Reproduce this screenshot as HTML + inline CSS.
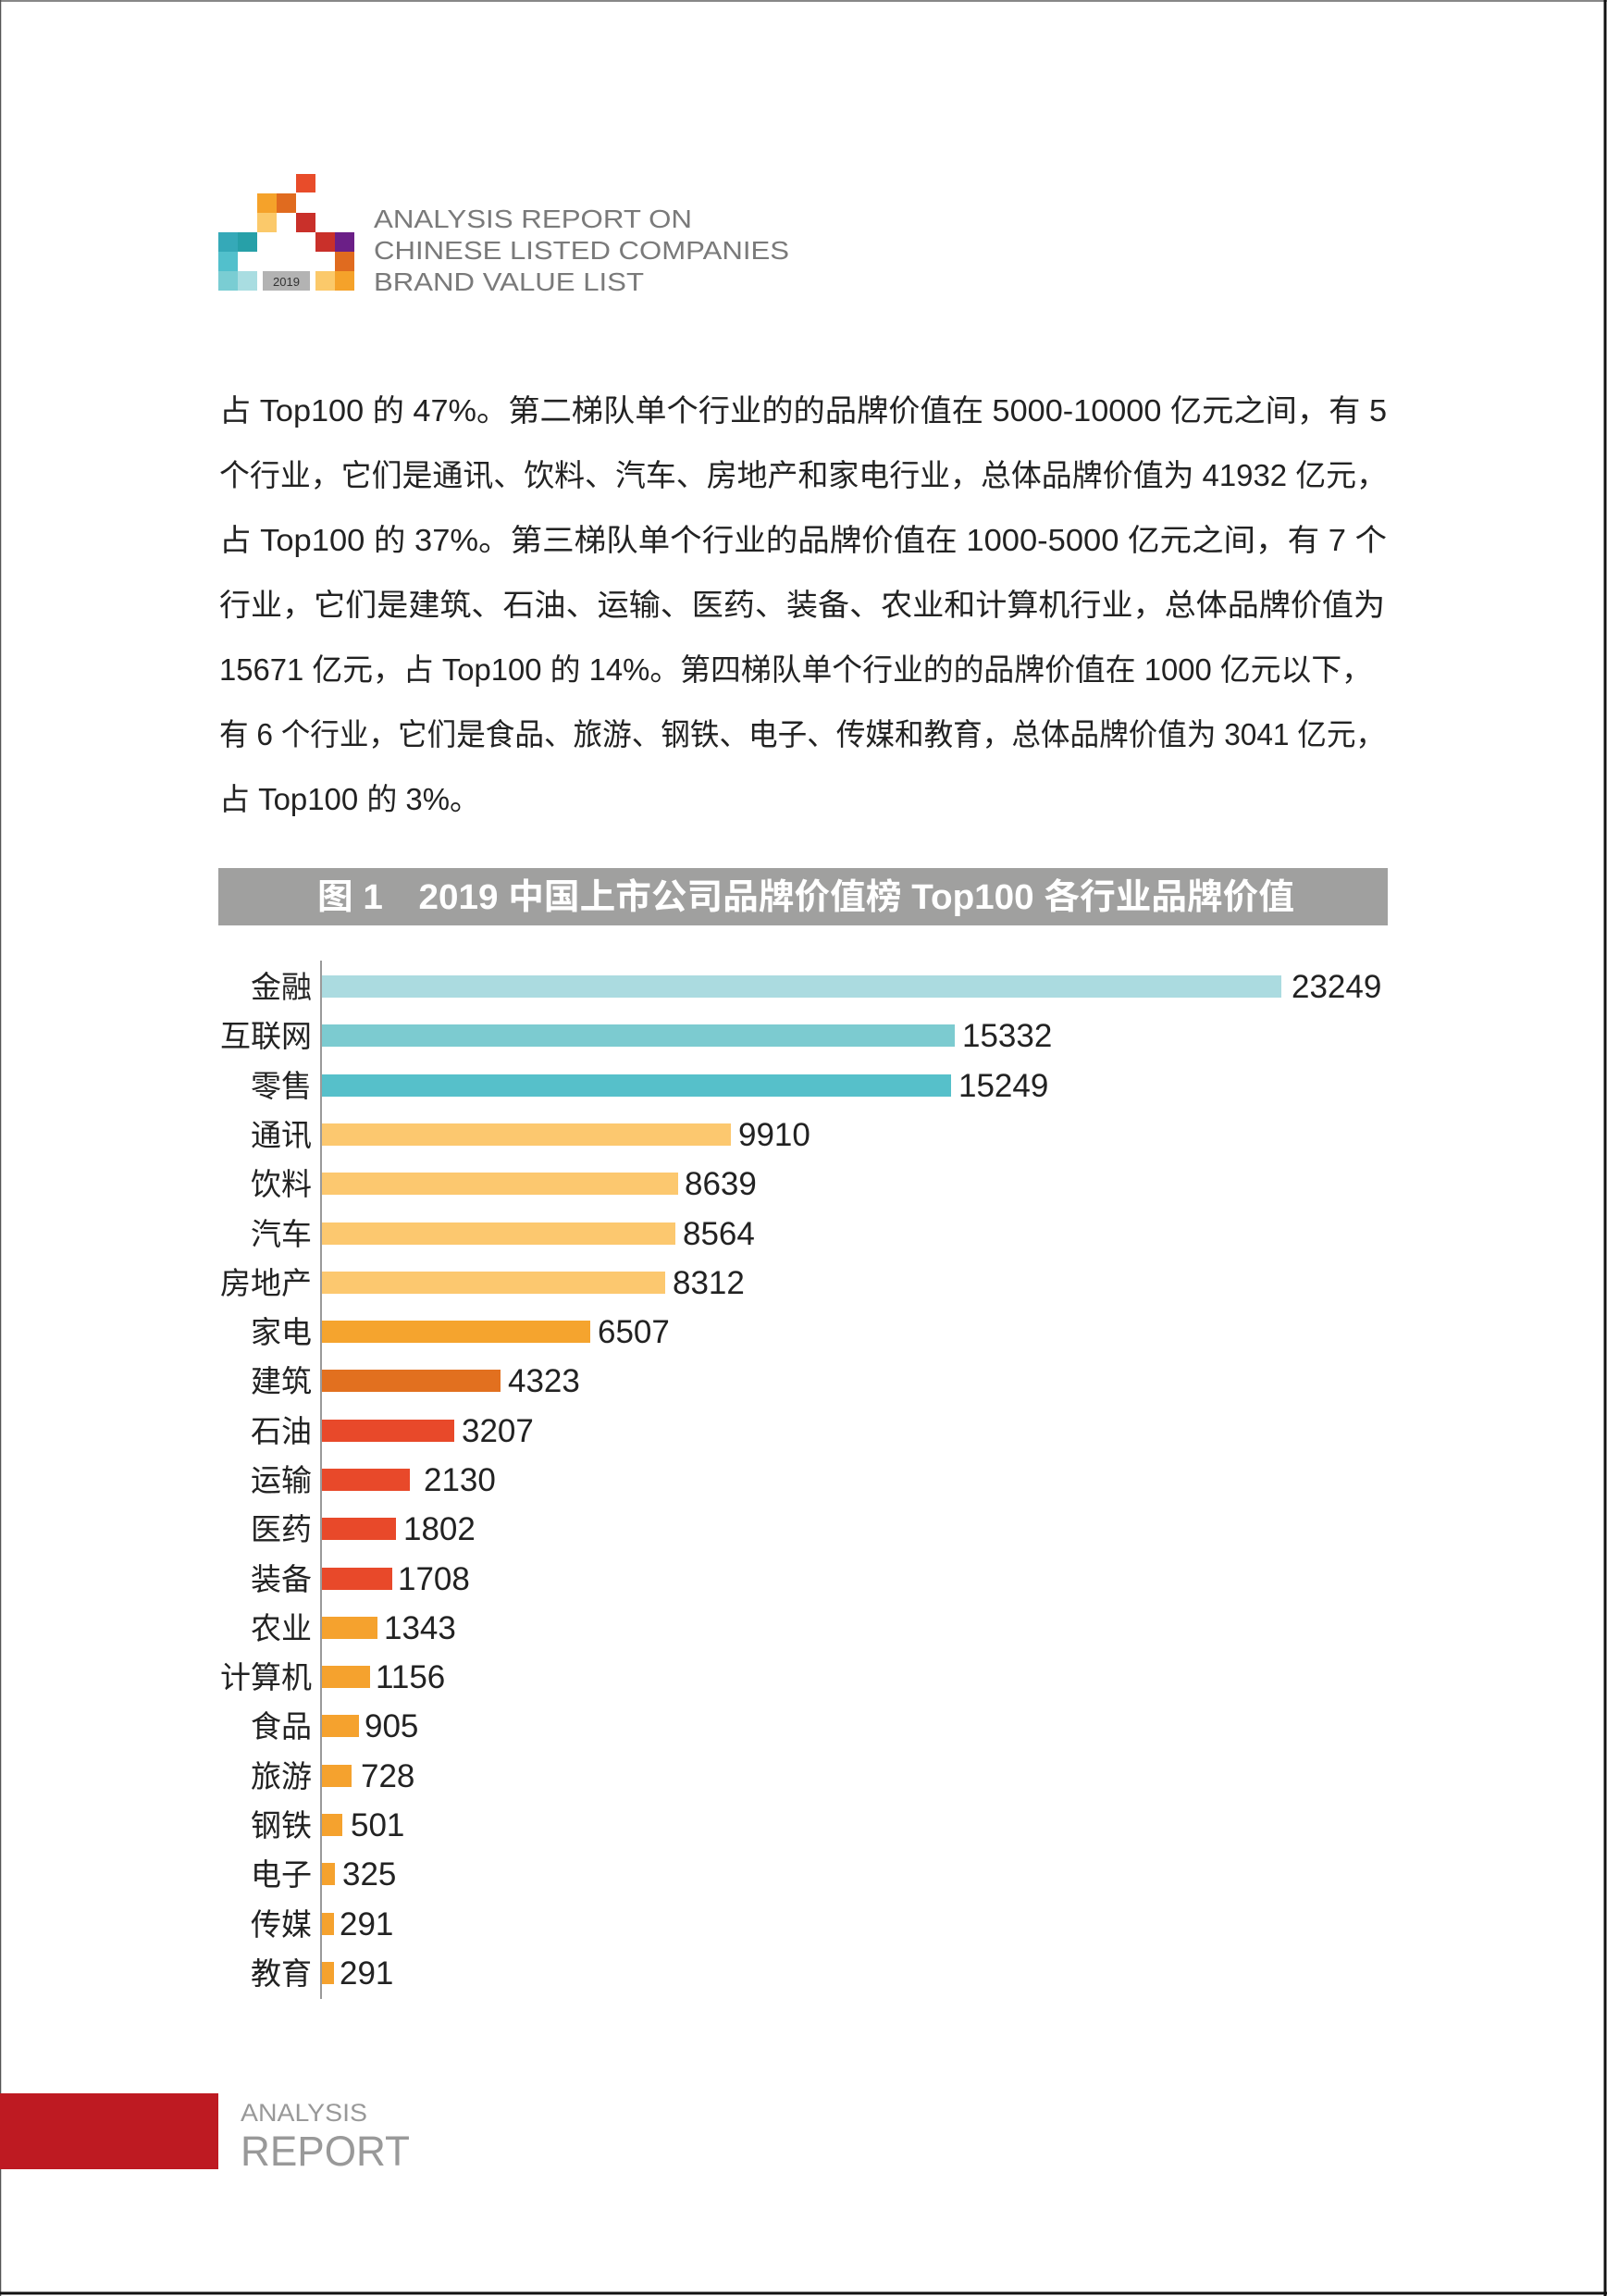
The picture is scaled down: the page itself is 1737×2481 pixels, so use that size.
<!DOCTYPE html>
<html><head><meta charset="utf-8"><style>
html,body{margin:0;padding:0;background:#fff}
svg{display:block}
</style></head><body>
<svg width="1737" height="2481" viewBox="0 0 1737 2481" xmlns="http://www.w3.org/2000/svg">
<rect x="0" y="0" width="1737" height="2481" fill="#fff"/>
<line x1="0" y1="1" x2="1737" y2="1" stroke="#888" stroke-width="2"/>
<line x1="0.5" y1="0" x2="0.5" y2="2481" stroke="#555" stroke-width="1.5"/>
<line x1="1735" y1="0" x2="1735" y2="2481" stroke="#111" stroke-width="3"/>
<line x1="0" y1="2478" x2="1737" y2="2478" stroke="#111" stroke-width="3"/>

<!-- logo -->
<g>
<rect x="320" y="188" width="21" height="20" fill="#e84c2a"/>
<rect x="278" y="209" width="21" height="21" fill="#f5a22a"/>
<rect x="299" y="209" width="21" height="21" fill="#e06b1f"/>
<rect x="278" y="230" width="21" height="21" fill="#fbc96a"/>
<rect x="320" y="230" width="21" height="21" fill="#c9302a"/>
<rect x="236" y="251" width="21" height="21" fill="#35a9b8"/>
<rect x="257" y="251" width="21" height="21" fill="#27a0a8"/>
<rect x="341" y="251" width="21" height="21" fill="#c9302a"/>
<rect x="362" y="251" width="21" height="21" fill="#6b1f87"/>
<rect x="236" y="272" width="21" height="21" fill="#52c0cc"/>
<rect x="362" y="272" width="21" height="21" fill="#e06b1f"/>
<rect x="236" y="293" width="21" height="21" fill="#7acdd3"/>
<rect x="257" y="293" width="21" height="21" fill="#a9dde1"/>
<rect x="284" y="293" width="51" height="21" fill="#b3b3b3"/>
<text x="309.5" y="309" font-family="Liberation Sans, sans-serif" font-size="13" fill="#333" text-anchor="middle">2019</text>
<rect x="341" y="293" width="21" height="21" fill="#fbc96a"/>
<rect x="362" y="293" width="21" height="21" fill="#f5a22a"/>
</g>
<g font-family="Liberation Sans, sans-serif" font-size="28" fill="#7a7a7a">
<text x="404" y="246" textLength="344" lengthAdjust="spacingAndGlyphs">ANALYSIS REPORT ON</text>
<text x="404" y="280" textLength="449" lengthAdjust="spacingAndGlyphs">CHINESE LISTED COMPANIES</text>
<text x="404" y="314" textLength="292" lengthAdjust="spacingAndGlyphs">BRAND VALUE LIST</text>
</g>

<!-- paragraph -->
<g font-family="Liberation Sans, 'Noto Sans CJK SC', sans-serif" font-size="33" fill="#222">
<text x="237" y="455" textLength="1262" lengthAdjust="spacingAndGlyphs">占 Top100 的 47%。第二梯队单个行业的的品牌价值在 5000-10000 亿元之间，有 5</text>
<text x="237" y="525" textLength="1262" lengthAdjust="spacingAndGlyphs">个行业，它们是通讯、饮料、汽车、房地产和家电行业，总体品牌价值为 41932 亿元，</text>
<text x="237" y="595" textLength="1262" lengthAdjust="spacingAndGlyphs">占 Top100 的 37%。第三梯队单个行业的品牌价值在 1000-5000 亿元之间，有 7 个</text>
<text x="237" y="665" textLength="1260" lengthAdjust="spacingAndGlyphs">行业，它们是建筑、石油、运输、医药、装备、农业和计算机行业，总体品牌价值为</text>
<text x="237" y="735" textLength="1246" lengthAdjust="spacingAndGlyphs">15671 亿元，占 Top100 的 14%。第四梯队单个行业的的品牌价值在 1000 亿元以下，</text>
<text x="237" y="805" textLength="1260" lengthAdjust="spacingAndGlyphs">有 6 个行业，它们是食品、旅游、钢铁、电子、传媒和教育，总体品牌价值为 3041 亿元，</text>
<text x="237" y="875" textLength="282" lengthAdjust="spacingAndGlyphs">占 Top100 的 3%。</text>
</g>

<!-- title bar -->
<rect x="236" y="938" width="1264" height="62" fill="#a0a09f"/>
<text x="871" y="982" font-family="Liberation Sans, 'Noto Sans CJK SC', sans-serif" font-size="38" font-weight="bold" fill="#fff" text-anchor="middle" textLength="1056" lengthAdjust="spacingAndGlyphs">图 1　2019 中国上市公司品牌价值榜 Top100 各行业品牌价值</text>

<!-- axis -->
<line x1="347" y1="1038" x2="347" y2="2160" stroke="#9a9a9a" stroke-width="2"/>

<g font-family="Liberation Sans, 'Noto Sans CJK SC', sans-serif">
<!-- rows: center = 1066 + 53.3*i -->
<g font-size="33" fill="#222" text-anchor="end">
<text x="337" y="1078">金融</text>
<text x="337" y="1131">互联网</text>
<text x="337" y="1185">零售</text>
<text x="337" y="1238">通讯</text>
<text x="337" y="1291">饮料</text>
<text x="337" y="1345">汽车</text>
<text x="337" y="1398">房地产</text>
<text x="337" y="1451">家电</text>
<text x="337" y="1504">建筑</text>
<text x="337" y="1558">石油</text>
<text x="337" y="1611">运输</text>
<text x="337" y="1664">医药</text>
<text x="337" y="1718">装备</text>
<text x="337" y="1771">农业</text>
<text x="337" y="1824">计算机</text>
<text x="337" y="1877">食品</text>
<text x="337" y="1931">旅游</text>
<text x="337" y="1984">钢铁</text>
<text x="337" y="2037">电子</text>
<text x="337" y="2091">传媒</text>
<text x="337" y="2144">教育</text>
</g>
<g>
<rect x="348" y="1054" width="1037" height="24" fill="#abdbe0"/>
<rect x="348" y="1107" width="684" height="24" fill="#7ccbd0"/>
<rect x="348" y="1161" width="680" height="24" fill="#56c0ca"/>
<rect x="348" y="1214" width="442" height="24" fill="#fcc86f"/>
<rect x="348" y="1267" width="385" height="24" fill="#fcc86f"/>
<rect x="348" y="1321" width="382" height="24" fill="#fcc86f"/>
<rect x="348" y="1374" width="371" height="24" fill="#fcc86f"/>
<rect x="348" y="1427" width="290" height="24" fill="#f5a42e"/>
<rect x="348" y="1480" width="193" height="24" fill="#e2701f"/>
<rect x="348" y="1534" width="143" height="24" fill="#e8492a"/>
<rect x="348" y="1587" width="95" height="24" fill="#e8492a"/>
<rect x="348" y="1640" width="80" height="24" fill="#e8492a"/>
<rect x="348" y="1694" width="76" height="24" fill="#e8492a"/>
<rect x="348" y="1747" width="60" height="24" fill="#f5a22e"/>
<rect x="348" y="1800" width="52" height="24" fill="#f5a22e"/>
<rect x="348" y="1853" width="40" height="24" fill="#f5a22e"/>
<rect x="348" y="1907" width="32" height="24" fill="#f5a22e"/>
<rect x="348" y="1960" width="22" height="24" fill="#f5a22e"/>
<rect x="348" y="2013" width="14" height="24" fill="#f5a22e"/>
<rect x="348" y="2067" width="13" height="24" fill="#f5a22e"/>
<rect x="348" y="2120" width="13" height="24" fill="#f5a22e"/>
</g>
<g font-size="35" fill="#222">
<text x="1396" y="1078">23249</text>
<text x="1040" y="1131">15332</text>
<text x="1036" y="1185">15249</text>
<text x="798" y="1238">9910</text>
<text x="740" y="1291">8639</text>
<text x="738" y="1345">8564</text>
<text x="727" y="1398">8312</text>
<text x="646" y="1451">6507</text>
<text x="549" y="1504">4323</text>
<text x="499" y="1558">3207</text>
<text x="458" y="1611">2130</text>
<text x="436" y="1664">1802</text>
<text x="430" y="1718">1708</text>
<text x="415" y="1771">1343</text>
<text x="406" y="1824">1156</text>
<text x="394" y="1877">905</text>
<text x="390" y="1931">728</text>
<text x="379" y="1984">501</text>
<text x="370" y="2037">325</text>
<text x="367" y="2091">291</text>
<text x="367" y="2144">291</text>
</g>
</g>

<!-- footer -->
<rect x="0" y="2262" width="236" height="82" fill="#be1a22"/>
<text x="260" y="2292" font-family="Liberation Sans, sans-serif" font-size="27" fill="#999" textLength="137" lengthAdjust="spacingAndGlyphs">ANALYSIS</text>
<text x="260" y="2340" font-family="Liberation Sans, sans-serif" font-size="45" fill="#999" textLength="183" lengthAdjust="spacingAndGlyphs">REPORT</text>
</svg>
</body></html>
